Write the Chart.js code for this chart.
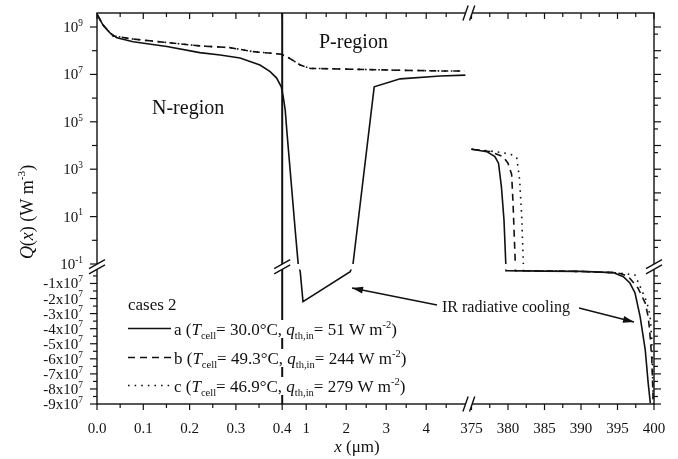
<!DOCTYPE html>
<html>
<head>
<meta charset="utf-8">
<script src="https://cdn.jsdelivr.net/npm/chart.js@4.4.1/dist/chart.umd.min.js"></script>
<style>
  html, body { margin: 0; padding: 0; background: #fff; }
  canvas { display: block; }
</style>
</head>
<body>
<canvas id="myChart" width="678" height="459"></canvas>
<script>
// values; null = break between axis segments
const aX = [0, 0.013, 0.028, 0.043, 0.078, 0.151, 0.222, 0.266, 0.309, 0.352, 0.374, 0.388, 0.398, 0.425, 0.475, 0.52, 0.725, 0.80,
    0.85, 0.92, 2.1, 2.17, 2.7, 3.35, 4.35, 4.98, null,
    375.0, 377.1, 378.2, 378.7, 379.1, 379.45, 379.7, 379.72, 385, 390, 394.4, 395.8, 396.7, 397.4, 398.1, 398.8, 399.2, 399.5];
const aQ = [3.5e9, 1.2e9, 5.6e8, 3.5e8, 2.4e8, 1.5e8, 8.3e7, 6.6e7, 4.9e7, 2.5e7, 1.3e7, 7e6, 3e6, 1.15e6, 3.2e5, 3.4e4, 2.7, 0.1,
    -2e6, -2.2e7, -2.2e6, 0.1, 3e6, 6.5e6, 8.5e6, 9.3e6, null,
    6900, 5500, 3400, 1800, 180, 7.2, 0.1, -1.5e6, -1.8e6, -2e6, -2.8e6, -5.5e6, -9.7e6, -1.63e7, -3.2e7, -5.4e7, -7.6e7, -8.95e7];

const bX = [0, 0.013, 0.028, 0.035, 0.078, 0.151, 0.222, 0.287, 0.337, 0.396, 0.52, 0.85, 1.1, 2.18, 3.3, 4.35, 4.95, null,
    375.0, 377.5, 379.3, 380.0, 380.5, 380.7, 381.0, 381.02, 390, 394.4, 395.5, 396.5, 397.8, 398.8, 399.2, 399.4, 399.7, 399.9];
const bQ = [3.5e9, 1.2e9, 5.8e8, 4.2e8, 3.1e8, 2.2e8, 1.6e8, 1.35e8, 9.1e7, 7.2e7, 5.6e7, 2.5e7, 1.8e7, 1.65e7, 1.5e7, 1.4e7, 1.4e7, null,
    7000, 5600, 3400, 1800, 600, 31, 0.1, -1.5e6, -2e6, -2.8e6, -3.5e6, -5.5e6, -1.3e7, -2.3e7, -3.2e7, -4.1e7, -6e7, -9e7];

const cX = [0, 0.013, 0.028, 0.035, 0.078, 0.151, 0.222, 0.287, 0.337, 0.396, 0.52, 0.85, 1.1, 2.18, 3.3, 4.35, 4.95, null,
    375.0, 377.7, 379.5, 380.6, 381.2, 381.6, 381.9, 382.1, 382.12, 390, 394.4, 396.0, 397.4, 398.3, 399.0, 399.45, 399.7, 399.9];
const cQ = [3.5e9, 1.2e9, 5.8e8, 4.2e8, 3.1e8, 2.2e8, 1.6e8, 1.35e8, 9.1e7, 7.2e7, 5.6e7, 2.5e7, 1.8e7, 1.65e7, 1.5e7, 1.4e7, 1.4e7, null,
    7000, 5800, 4800, 4000, 3000, 350, 7.2, 0.1, -1.5e6, -2e6, -2.8e6, -3.5e6, -4.4e6, -1.43e7, -2.2e7, -3.1e7, -4.7e7, -9e7];

// ticks
const xMajor = [0, 0.1, 0.2, 0.3, 0.4, 1, 2, 3, 4, 375, 380, 385, 390, 395, 400];
const xLabels = ['0.0', '0.1', '0.2', '0.3', '0.4', '1', '2', '3', '4', '375', '380', '385', '390', '395', '400'];
const xMinor = [0.05, 0.15, 0.25, 0.35, 1.5, 2.5, 3.5, 4.5, 377.5, 382.5, 387.5, 392.5, 397.5];
const logExp = [-1, 0, 1, 2, 3, 4, 5, 6, 7, 8, 9];
const logLabelExp = [9, 7, 5, 3, 1, -1];
const linMajor = [-1, -2, -3, -4, -5, -6, -7, -8, -9];   // x10^7
const linMinor = [-0.5, -1.5, -2.5, -3.5, -4.5, -5.5, -6.5, -7.5, -8.5];

// broken axes: x in three linear pieces, Q log above / linear below
function xu(x) {
    if (x <= 0.4) return x * 463;
    if (x <= 5) return 185.2 + (x - 0.4) * 40;
    return 374.5 + (x - 375) * 7.3;
}
function yv(q) {
    if (q > 0) return 140 + (Math.log10(q) + 1) * 23.7;
    return 135.6 + q / 1e7 * 15.07;
}
function pts(xs, qs) {
    const out = [];
    xs.forEach((x, i) => {
        if (x === null) out.push({x: xu(xs[i - 1]), y: null});
        else out.push({x: xu(x), y: yv(qs[i])});
    });
    return out;
}

const FONT = '"Liberation Serif", "Times New Roman", "DejaVu Serif", serif';
const INK = '#111';

function rich(ctx, parts, x, y, size, align) {
    const f = st => ((st === 'i') ? 'italic ' : '') + ((st === 'b' || st === 'p') ? size * 0.62 : size) + 'px ' + FONT;
    let w = 0;
    parts.forEach(p => { ctx.font = f(p[1]); w += ctx.measureText(p[0]).width; });
    let cx = align === 'right' ? x - w : (align === 'center' ? x - w / 2 : x);
    ctx.textAlign = 'left';
    ctx.textBaseline = 'alphabetic';
    parts.forEach(p => {
        ctx.font = f(p[1]);
        const dy = p[1] === 'b' ? size * 0.24 : (p[1] === 'p' ? -size * 0.42 : 0);
        ctx.fillText(p[0], cx, y + dy);
        cx += ctx.measureText(p[0]).width;
    });
    return w;
}

function line(ctx, x1, y1, x2, y2) {
    ctx.beginPath(); ctx.moveTo(x1, y1); ctx.lineTo(x2, y2); ctx.stroke();
}

function arrow(ctx, x1, y1, x2, y2) {
    line(ctx, x1, y1, x2, y2);
    const a = Math.atan2(y2 - y1, x2 - x1), L = 11, W = 3.5;
    ctx.beginPath();
    ctx.moveTo(x2, y2);
    ctx.lineTo(x2 - L * Math.cos(a) + W * Math.sin(a), y2 - L * Math.sin(a) - W * Math.cos(a));
    ctx.lineTo(x2 - L * Math.cos(a) - W * Math.sin(a), y2 - L * Math.sin(a) + W * Math.cos(a));
    ctx.closePath();
    ctx.fill();
}

// "//" break mark centred at (cx, cy); dx, dy = half extent of one stroke, ox, oy = offset between strokes
function breakMark(ctx, cx, cy, dx, dy, ox, oy) {
    ctx.fillStyle = '#fff';
    ctx.beginPath();
    ctx.moveTo(cx - ox - dx, cy - oy + dy);
    ctx.lineTo(cx - ox + dx, cy - oy - dy);
    ctx.lineTo(cx + ox + dx, cy + oy - dy);
    ctx.lineTo(cx + ox - dx, cy + oy + dy);
    ctx.closePath();
    ctx.fill();
    ctx.strokeStyle = INK;
    ctx.lineWidth = 1.4;
    line(ctx, cx - ox - dx, cy - oy + dy, cx - ox + dx, cy - oy - dy);
    line(ctx, cx + ox - dx, cy + oy + dy, cx + ox + dx, cy + oy - dy);
}

const decor = {
    id: 'decor',
    afterDatasetsDraw(chart) {
        const {ctx, chartArea: ca, scales} = chart;
        const px = x => scales.x.getPixelForValue(xu(x));
        const py = q => scales.y.getPixelForValue(yv(q));
        ctx.save();

        // gap between the two y panels
        const gTop = py(0.1), gBot = py(-7e5);
        ctx.fillStyle = '#fff';
        ctx.fillRect(ca.left, gTop, ca.right - ca.left, gBot - gTop);

        // p-n junction line at x = 0.4
        ctx.strokeStyle = INK;
        ctx.lineWidth = 2;
        line(ctx, px(0.4), ca.top, px(0.4), ca.bottom);

        // legend
        ctx.fillStyle = INK;
        rich(ctx, [['cases 2', '']], 128, 310, 17, 'left');
        const rows = [
            {y: 335, dash: [], parts: [['a (', ''], ['T', 'i'], ['cell', 'b'], ['= 30.0°C, ', ''], ['q', 'i'], ['th,in', 'b'], ['= 51 W m', ''], ['-2', 'p'], [')', '']]},
            {y: 364, dash: [7, 5], parts: [['b (', ''], ['T', 'i'], ['cell', 'b'], ['= 49.3°C, ', ''], ['q', 'i'], ['th,in', 'b'], ['= 244 W m', ''], ['-2', 'p'], [')', '']]},
            {y: 392, dash: [1.6, 5], parts: [['c (', ''], ['T', 'i'], ['cell', 'b'], ['= 46.9°C, ', ''], ['q', 'i'], ['th,in', 'b'], ['= 279 W m', ''], ['-2', 'p'], [')', '']]}
        ];
        rows.forEach(r => {
            ctx.save();
            ctx.globalAlpha = 0;
            const w = rich(ctx, r.parts, 174, r.y, 17, 'left');
            ctx.restore();
            ctx.fillStyle = '#fff';
            ctx.fillRect(173, r.y - 15, w + 2, 18);
            ctx.fillStyle = INK;
            rich(ctx, r.parts, 174, r.y, 17, 'left');
            ctx.strokeStyle = INK;
            ctx.lineWidth = 1.6;
            ctx.setLineDash(r.dash);
            line(ctx, 128, r.y - 6.5, 171, r.y - 6.5);
            ctx.setLineDash([]);
        });

        // region labels and arrows
        ctx.fillStyle = INK;
        rich(ctx, [['N-region', '']], 152, 114, 20, 'left');
        rich(ctx, [['P-region', '']], 319, 48, 20, 'left');
        rich(ctx, [['IR radiative cooling', '']], 442, 312, 16, 'left');
        ctx.lineWidth = 1.3;
        arrow(ctx, 437, 305, 352, 288);
        arrow(ctx, 579, 308, 634, 322);

        // frame
        ctx.lineWidth = 1.4;
        ctx.strokeRect(ca.left, ca.top, ca.right - ca.left, ca.bottom - ca.top);

        // x ticks: bottom outward, top inward
        ctx.lineWidth = 1.2;
        xMajor.forEach(v => { const x = px(v); line(ctx, x, ca.bottom, x, ca.bottom + 6); line(ctx, x, ca.top, x, ca.top + 6); });
        xMinor.forEach(v => { const x = px(v); line(ctx, x, ca.bottom, x, ca.bottom + 4); line(ctx, x, ca.top, x, ca.top + 4); });

        // y ticks: outward on both sides
        logExp.forEach(e => {
            const y = py(Math.pow(10, e));
            const len = (e % 2 !== 0) ? 7 : 5;
            line(ctx, ca.left - len, y, ca.left, y);
            line(ctx, ca.right, y, ca.right + 7, y);
            if (e >= 0) {
                const y5 = py(5 * Math.pow(10, e - 1));
                line(ctx, ca.right, y5, ca.right + 4, y5);
            }
        });
        linMajor.forEach(v => { const y = py(v * 1e7); line(ctx, ca.left - 7, y, ca.left, y); line(ctx, ca.right, y, ca.right + 7, y); });
        linMinor.forEach(v => { const y = py(v * 1e7); line(ctx, ca.left - 4, y, ca.left, y); line(ctx, ca.right, y, ca.right + 4, y); });

        // tick labels
        ctx.fillStyle = INK;
        xMajor.forEach((v, i) => rich(ctx, [[xLabels[i], '']], px(v), ca.bottom + 29, 15, 'center'));
        logLabelExp.forEach(e => rich(ctx, [['10', ''], [String(e), 'p']], 83, py(Math.pow(10, e)) + 5, 15, 'right'));
        linMajor.forEach(v => rich(ctx, [[v + 'x10', ''], ['7', 'p']], 83, py(v * 1e7) + 5, 15, 'right'));

        // axis titles
        rich(ctx, [['x', 'i'], [' (μm)', '']], 357, 452, 17, 'center');
        ctx.save();
        ctx.translate(33, 212);
        ctx.rotate(-Math.PI / 2);
        rich(ctx, [['Q', 'i'], ['(', ''], ['x', 'i'], [') (W m', ''], ['-3', 'p'], [')', '']], 0, 0, 18, 'center');
        ctx.restore();

        // break marks
        const yb = (gTop + gBot) / 2;
        breakMark(ctx, ca.left, yb, 8, 4.5, 0, 2.6);
        breakMark(ctx, ca.right, yb, 8, 4.5, 0, 2.6);
        breakMark(ctx, px(0.4), yb, 8, 4.5, 0, 2.6);
        const xb = (px(5) + px(375)) / 2;
        breakMark(ctx, xb, ca.bottom, 2.6, 7.5, 3.3, 0);
        breakMark(ctx, xb, ca.top, 2.6, 7.5, 3.3, 0);

        ctx.restore();
    }
};

const ctx = document.getElementById('myChart').getContext('2d');
const myChart = new Chart(ctx, {
    type: 'line',
    data: {
        datasets: [{
            label: 'a',
            data: pts(aX, aQ),
            borderColor: INK,
            borderWidth: 1.6,
        }, {
            label: 'b',
            data: pts(bX, bQ),
            borderColor: INK,
            borderWidth: 1.6,
            borderDash: [7, 5],
        }, {
            label: 'c',
            data: pts(cX, cQ),
            borderColor: INK,
            borderWidth: 1.6,
            borderDash: [1.6, 5],
        }]
    },
    options: {
        responsive: false,
        animation: false,
        devicePixelRatio: 1,
        layout: {padding: {left: 97, top: 13, right: 24, bottom: 55}},
        elements: {point: {radius: 0}, line: {tension: 0, fill: false}},
        plugins: {legend: {display: false}, tooltip: {enabled: false}},
        scales: {
            x: {type: 'linear', min: 0, max: 557, display: false},
            y: {type: 'linear', min: 0, max: 391, display: false}
        }
    },
    plugins: [decor]
});
</script>
</body>
</html>
